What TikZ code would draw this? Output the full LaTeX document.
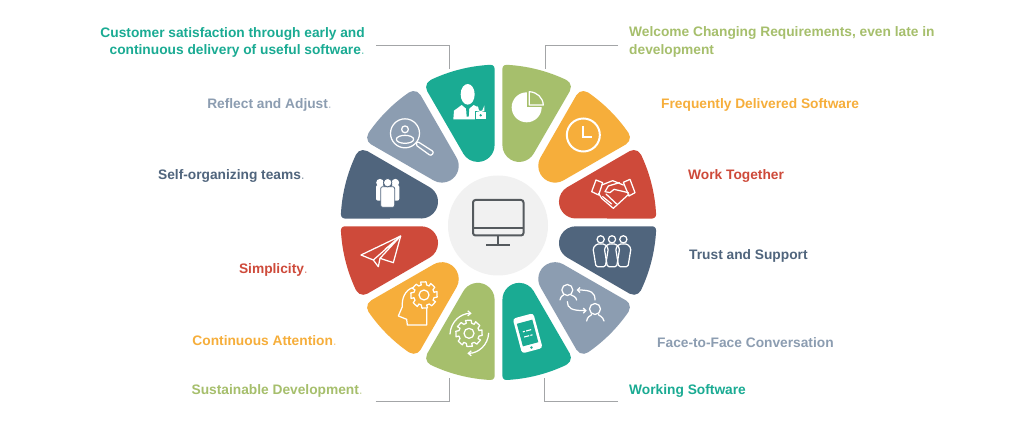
\documentclass[tikz,border=0pt]{standalone}
\usepackage{fontspec}
\setmainfont{Liberation Sans}
\usetikzlibrary{arrows.meta}
\definecolor{cteal}{HTML}{1AAB93}
\definecolor{cgreen}{HTML}{A6BF6C}
\definecolor{corange}{HTML}{F6AE3B}
\definecolor{cred}{HTML}{CE4A3A}
\definecolor{cslate}{HTML}{50657D}
\definecolor{cgrey}{HTML}{8C9DB1}
\definecolor{cdisc}{HTML}{F1F1F1}
\definecolor{cmon}{HTML}{555A5E}
\definecolor{cline}{HTML}{A3A5A7}
\tikzset{
  lab/.style={font=\fontsize{13.75}{17}\selectfont\bfseries,inner sep=0pt},
  ltop/.style={shift={(330,50)},x=0.33333pt,y=-0.33333pt},
  lbot/.style={shift={(330,210)},x=0.33333pt,y=-0.33333pt},
  ico/.style={draw=white,line width=1.25pt,line join=round,line cap=round},
  conn/.style={draw=cline,line width=1pt}
}
\newcommand\petal[4]{%
  \pgfmathsetmacro\phiA{15-asin((#3+3.85)/(157.8-#3))}%
  \pgfmathsetmacro\phiB{15-asin((#4+3.85)/(157.8-#4))}%
  \pgfmathsetmacro\xA{(157.8-#3)*cos(\phiA)+#3*cos(105)}%
  \pgfmathsetmacro\yA{(157.8-#3)*sin(\phiA)+#3*sin(105)}%
  \begin{scope}[shift={(498.5,222.4)},rotate=#1,x=1pt,y=1pt]
    \fill[#2] (75.65,16.2) -- (\xA,\yA)
      arc[start angle=105,end angle=\phiA,radius=#3pt]
      arc[start angle=\phiA,end angle=-\phiB,radius=157.8pt]
      arc[start angle=-\phiB,end angle=-105,radius=#4pt]
      -- (75.65,-16.2)
      arc[start angle=-105,end angle=-255,radius=16.8pt] -- cycle;
  \end{scope}}
\newcommand\gearico[4]{% cx cy ro ri
  \begin{scope}[shift={(#1,#2)}]
    \draw[ico] (-15:#3) foreach \a in {0,45,...,315}{ -- ({\a-15}:#3) -- ({\a+9}:#3) -- ({\a+15}:{#3*0.78}) -- ({\a+30}:{#3*0.78}) } -- cycle;
    \draw[ico] (0,0) circle[radius=#4*0.33333pt];
  \end{scope}}
\begin{document}
\begin{tikzpicture}[x=1pt,y=-1pt]
\useasboundingbox (0,0) rectangle (1024,427);
\fill[white] (0,0) rectangle (1024,427);
% petals
\petal{75}{cgreen}{4}{8}
\petal{45}{corange}{8}{8}
\petal{15}{cred}{8}{4}
\petal{-15}{cslate}{4}{8}
\petal{-45}{cgrey}{8}{8}
\petal{-75}{cteal}{8}{4}
\petal{-105}{cgreen}{4}{8}
\petal{-135}{corange}{8}{8}
\petal{-165}{cred}{8}{4}
\petal{165}{cslate}{4}{8}
\petal{135}{cgrey}{8}{8}
\petal{105}{cteal}{8}{4}
% centre disc and monitor
\fill[cdisc] (498,225.5) circle[radius=50pt];
\draw[cmon,line width=2pt,rounded corners=2.5pt] (473,200) rectangle (523.5,235.5);
\draw[cmon,line width=2pt] (473,228) -- (523.5,228);
\draw[cmon,line width=2pt] (498,236) -- (498,245);
\draw[cmon,line width=2pt] (486,245) -- (510,245);
% teal person
\begin{scope}[ltop]
  \fill[white] (413,133) ellipse[x radius=21,y radius=31];
  \fill[white] (370,208) -- (372,182) -- (395,165) -- (413,180) -- (431,165) -- (445,172) -- (445,208) -- cycle;
  \fill[cteal] (408,172) -- (418,172) -- (416,200) -- (410,200) -- cycle;
  \fill[white,draw=cteal,line width=1pt] (436,184) rectangle (468,209);
  \draw[white,line width=1.2pt] (443,184) -- (443,176) arc[start angle=180,end angle=0,radius=9] -- (461,184);
  \fill[cteal] (452,196) circle[radius=1.3pt];
\end{scope}
% pie
\begin{scope}[ltop]
  \fill[white] (590,172) circle[radius=15pt];
  \fill[cgreen] (590,120) rectangle (650,172);
  \draw[ico] (598,125) -- (598,165) -- (640,165) .. controls (638,142) and (622,127) .. (598,125) -- cycle;
\end{scope}
% clock
\begin{scope}[ltop]
  \draw[white,line width=2pt] (760,255) circle[radius=16.5pt];
  \draw[white,line width=2pt] (760,228) -- (760,260) -- (785,260);
\end{scope}
% handshake
\begin{scope}[ltop]
  \draw[ico] (785,425) -- (798,390) -- (818,398) -- (806,435) -- cycle;
  \draw[ico] (880,397) -- (900,388) -- (915,428) -- (897,438) -- cycle;
  \draw[ico] (815,405) -- (848,392) -- (880,405);
  \draw[ico] (868,398) -- (835,408) -- (825,425) -- (840,428) -- (852,418) -- (895,428);
  \draw[ico] (806,430) -- (815,445) -- (850,475) -- (897,432);
  \draw[ico] (818,440) -- (845,462) (828,432) -- (860,462);
\end{scope}
% three filled people
\begin{scope}[ltop]
  \fill[white,rounded corners=2pt] (138,405) rectangle (162,452);
  \fill[white,rounded corners=2pt] (184,405) rectangle (208,452);
  \fill[white] (150,398) circle[radius=3.8pt] (196,398) circle[radius=3.8pt];
  \fill[white,draw=cslate,line width=0.8pt,rounded corners=2pt] (152,410) rectangle (194,472);
  \fill[white,draw=cslate,line width=0.8pt] (173,398) circle[radius=4.2pt];
\end{scope}
% three outlined people
\begin{scope}[lbot]
  \foreach \c in {812,846,880}{
    \draw[ico] (\c,88) circle[radius=3.6pt];
    \draw[ico,rounded corners=1.5pt] ({\c-23},115) -- ({\c-14},170) -- ({\c+14},170) -- ({\c+23},115) -- ({\c+12},102) -- ({\c-12},102) -- cycle;
  }
\end{scope}
% magnifier
\begin{scope}[ltop]
  \draw[ico] (225,250) circle[radius=14.5pt];
  \draw[ico] (225,238) circle[radius=3.4pt];
  \draw[ico] (225,268) ellipse[x radius=26,y radius=12];
  \draw[ico,rounded corners=2pt] (262,274) -- (312,306) -- (303,318) -- (256,284) -- cycle;
\end{scope}
% paper plane
\begin{scope}[lbot]
  \draw[ico] (212,78) -- (93,135) -- (130,150) -- (145,170) -- (150,145) -- (190,158) -- cycle;
  \draw[ico] (212,78) -- (130,150) (212,78) -- (150,145) (212,78) -- (165,118);
\end{scope}
% head and gear
\begin{scope}[lbot]
  \draw[ico] (250,232) .. controls (225,240) and (215,265) .. (217,290) -- (205,318) -- (230,328) -- (232,345) -- (290,345) -- (290,296);
\end{scope}
\begin{scope}[lbot]
  \gearico{282}{255}{40}{15}
\end{scope}
% gear with arrows
\begin{scope}[lbot]
  \gearico{417}{370}{40}{15}
  \draw[ico,-{Straight Barb[length=3pt,width=5pt]}] (360,372) .. controls (362,335) and (392,310) .. (425,310);
  \draw[ico,-{Straight Barb[length=3pt,width=5pt]}] (476,370) .. controls (474,405) and (445,430) .. (412,430);
\end{scope}
% phone
\begin{scope}[lbot]
  \begin{scope}[shift={(593,370)},rotate=15]
    \fill[white,rounded corners=3pt] (-32,-54) rectangle (32,54);
    \fill[cteal] (-24,-36) rectangle (24,34);
    \fill[cteal] (0,44) circle[radius=1.4pt];
    \draw[white,line width=1.1pt] (-13,-8) -- (13,-8) (-13,8) -- (13,8);
    \fill[cteal] (-6,-12) rectangle (-3,-4);
    \fill[cteal] (3,4) rectangle (6,12);
  \end{scope}
\end{scope}
% conversation
\begin{scope}[lbot]
  \draw[ico] (712,240) circle[radius=5.5pt];
  \draw[ico] (690,270) .. controls (692,258) and (700,256) .. (702,254) (722,254) .. controls (726,258) and (738,258) .. (740,270);
  \draw[ico] (795,297) circle[radius=5.5pt];
  \draw[ico] (770,333) .. controls (772,320) and (780,318) .. (785,314) (805,314) .. controls (810,318) and (818,320) .. (822,333);
  \draw[ico,-{Straight Barb[length=2.5pt,width=5pt]}] (795,270) .. controls (795,248) and (785,240) .. (740,240);
  \draw[ico,-{Straight Barb[length=2.5pt,width=5pt]}] (712,275) .. controls (712,295) and (725,302) .. (770,302);
\end{scope}
% labels
\node[lab,text=cteal,anchor=base east] (l1a) at (365,38) {Customer satisfaction through early and};
\node[lab,text=cteal,anchor=base east] (l1b) at (365,55) {continuous delivery of useful software\textcolor{cteal!60}{\mdseries.}};
\node[lab,text=cgrey,anchor=base east] (l2) at (332,109) {Reflect and Adjust\textcolor{cgrey!60}{\mdseries.}};
\node[lab,text=cslate,anchor=base east] (l3) at (305,180) {Self-organizing teams\textcolor{cslate!60}{\mdseries.}};
\node[lab,text=cred,anchor=base east] (l4) at (308,274) {Simplicity\textcolor{cred!60}{\mdseries.}};
\node[lab,text=corange,anchor=base east] (l5) at (337,345) {Continuous Attention\textcolor{corange!60}{\mdseries.}};
\node[lab,text=cgreen,anchor=base east] (l6) at (363,394) {Sustainable Development\textcolor{cgreen!60}{\mdseries.}};
\node[lab,text=cgreen,anchor=base west] (r1a) at (629,37) {Welcome Changing Requirements, even late in};
\node[lab,text=cgreen,anchor=base west] (r1b) at (629,55) {development};
\node[lab,text=corange,anchor=base west] (r2) at (661,109) {Frequently Delivered Software};
\node[lab,text=cred,anchor=base west] (r3) at (688,180) {Work Together};
\node[lab,text=cslate,anchor=base west] (r4) at (689,260) {Trust and Support};
\node[lab,text=cgrey,anchor=base west] (r5) at (657,347) {Face-to-Face Conversation};
\node[lab,text=cteal,anchor=base west] (r6) at (629,394) {Working Software};
% connectors
\coordinate (a1) at (376,45.7); \coordinate (a2) at (449,69);
\coordinate (b1) at (618,45.7); \coordinate (b2) at (545,69);
\coordinate (c1) at (375.7,401.7); \coordinate (c2) at (449,378);
\coordinate (d1) at (618,401.7); \coordinate (d2) at (544.5,378);
\draw[conn] (a1) -| (a2);
\draw[conn] (b1) -| (b2);
\draw[conn] (c1) -| (c2);
\draw[conn] (d1) -| (d2);
\end{tikzpicture}
\end{document}
